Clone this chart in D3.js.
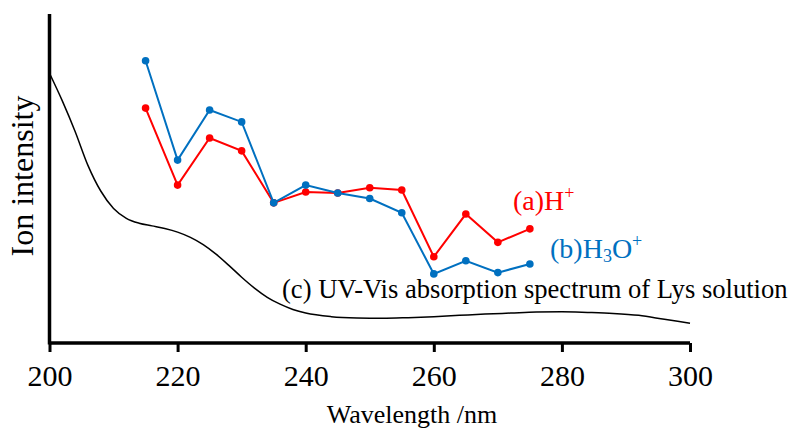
<!DOCTYPE html>
<html>
<head>
<meta charset="utf-8">
<script src="https://cdn.jsdelivr.net/npm/d3@7"></script>
<style>
  body { margin: 0; background: #fff; }
  svg text { font-family: "Liberation Serif", "Times New Roman", serif; }
</style>
</head>
<body>
<script>
const width = 791, height = 428;

// ion intensity by wavelength (arbitrary units)
const wavelengths = [215, 220, 225, 230, 235, 240, 245, 250, 255, 260, 265, 270, 275];
const hPlus = [71.4, 48.0, 62.3, 58.4, 42.6, 45.9, 45.6, 47.2, 46.5, 26.2, 39.2, 30.6, 34.7];
const h3oPlus = [85.8, 55.6, 70.8, 67.2, 42.6, 48.0, 45.6, 43.9, 39.6, 21.0, 25.0, 21.4, 24.0];

// UV-Vis absorption spectrum (scaled)
const uvWavelengths = [200, 202, 204, 206, 208, 210, 212, 214, 216, 218, 220, 222, 224, 226, 228, 230,
  232, 234, 236, 238, 240, 244, 248, 252, 256, 260, 264, 268, 272, 276, 280, 284, 288, 292, 296, 300];
const uvValues = [82, 73.6, 64.3, 54.0, 46.2, 40.9, 37.9, 36.4, 35.6, 34.8, 33.7, 32.1, 29.9, 27.0, 23.6, 20.0,
  16.7, 13.9, 11.8, 10.2, 9.1, 8.0, 7.6, 7.5, 7.7, 8.0, 8.4, 8.8, 9.1, 9.4, 9.5, 9.3, 9.0, 8.4, 7.2, 6.0];

const xTicks = [200, 220, 240, 260, 280, 300];

const x = d3.scaleLinear().domain([200, 300]).range([49.5, 690]);
const y = d3.scaleLinear().domain([0, 100]).range([343, 14]);

const svg = d3.select("body").append("svg")
    .attr("width", width)
    .attr("height", height);

// UV curve
const uv = uvWavelengths.map((w, i) => [w, uvValues[i]]);
svg.append("path")
    .attr("fill", "none")
    .attr("stroke", "#000")
    .attr("stroke-width", 1.5)
    .attr("d", d3.line().x(d => x(d[0])).y(d => y(d[1])).curve(d3.curveMonotoneX)(uv));

const series = [
  {values: hPlus, color: "#ff0000"},
  {values: h3oPlus, color: "#0070c0"}
];

for (const s of series) {
  const pts = wavelengths.map((w, i) => [w, s.values[i]]);
  svg.append("path")
      .attr("fill", "none")
      .attr("stroke", s.color)
      .attr("stroke-width", 2)
      .attr("d", d3.line().x(d => x(d[0])).y(d => y(d[1]))(pts));
  svg.append("g").selectAll("circle")
    .data(pts)
    .join("circle")
      .attr("cx", d => x(d[0]))
      .attr("cy", d => y(d[1]))
      .attr("r", 3.8)
      .attr("fill", s.color);
}

// axes
const xAxis = svg.append("g")
    .attr("transform", `translate(0,${y(0)})`)
    .call(d3.axisBottom(x).tickValues(xTicks).tickSize(9).tickPadding(13).tickFormat(d3.format("d")))
    .attr("font-family", null)
    .attr("font-size", null);
xAxis.select(".domain").attr("stroke-width", 3.5).attr("d", `M${x(200)},0H${x(300)}`);
xAxis.selectAll(".tick line").attr("stroke-width", 3);
xAxis.selectAll(".tick text")
    .style("font-family", "'Liberation Serif', serif")
    .style("font-size", "30px")
    .attr("fill", "#000");

svg.append("line")
    .attr("x1", x(200)).attr("x2", x(200))
    .attr("y1", y(100)).attr("y2", y(0) + 1.5)
    .attr("stroke", "#000")
    .attr("stroke-width", 3.5);

svg.append("text")
    .attr("x", 412)
    .attr("y", 423)
    .attr("text-anchor", "middle")
    .attr("font-size", 26)
    .text("Wavelength /nm");

svg.append("text")
    .attr("transform", "translate(33,176) rotate(-90)")
    .attr("text-anchor", "middle")
    .attr("font-size", 32)
    .text("Ion intensity");

// series labels
const la = svg.append("text")
    .attr("x", 513).attr("y", 210)
    .attr("font-size", 28)
    .attr("fill", "#ff0000");
la.append("tspan").text("(a)H");
la.append("tspan").attr("font-size", 18).attr("dy", -11).text("+");

const lb = svg.append("text")
    .attr("x", 550).attr("y", 258)
    .attr("font-size", 28)
    .attr("fill", "#0070c0");
lb.append("tspan").text("(b)H");
lb.append("tspan").attr("font-size", 18).attr("dy", 4).text("3");
lb.append("tspan").attr("dy", -4).text("O");
lb.append("tspan").attr("font-size", 18).attr("dy", -11).text("+");

svg.append("text")
    .attr("x", 282).attr("y", 298)
    .attr("font-size", 26.6)
    .attr("fill", "#000")
    .text("(c) UV-Vis absorption spectrum of Lys solution");
</script>
</body>
</html>
